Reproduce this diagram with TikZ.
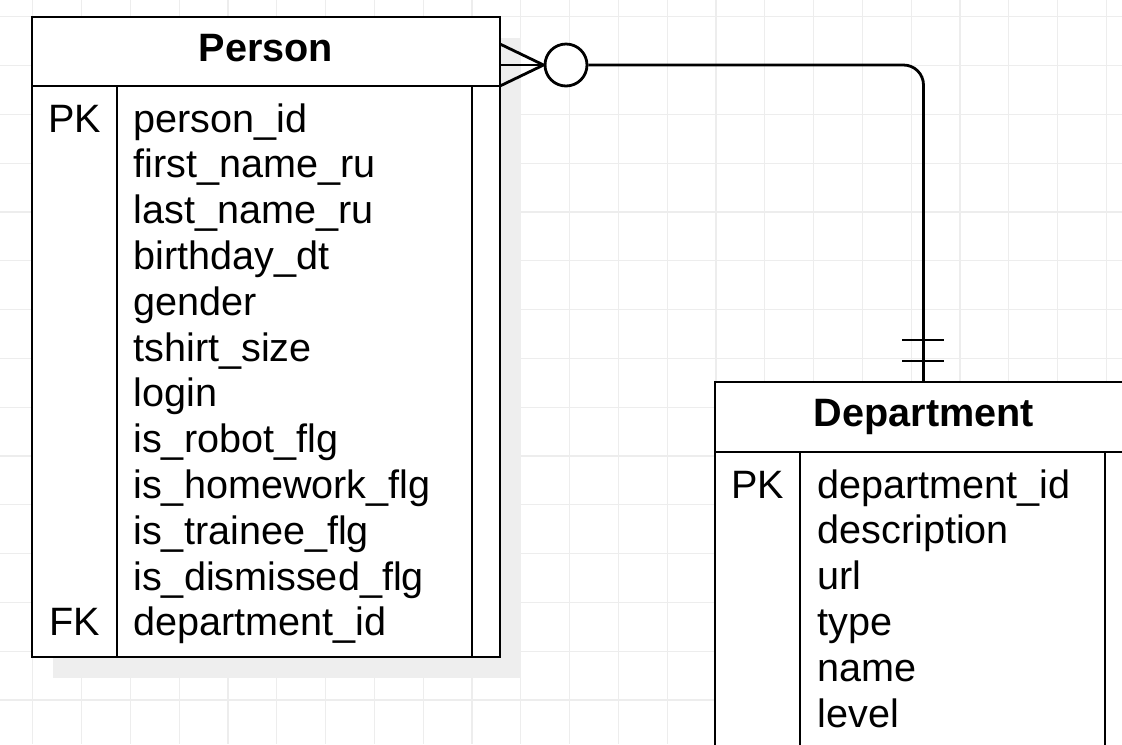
\documentclass[tikz,border=0pt]{standalone}
\usepackage{fontspec}
\setmainfont{Liberation Sans}
\usetikzlibrary{positioning}
\definecolor{gridgray}{HTML}{EDEDED}
\definecolor{shadowgray}{HTML}{EEEEEE}
\begin{document}
\begin{tikzpicture}[x=0.75pt,y=-0.75pt,line width=2.1pt,
    field/.style={anchor=base west,inner sep=0pt,font=\fontsize{29.7}{36}\selectfont},
    keylbl/.style={anchor=base,inner sep=0pt,font=\fontsize{29.7}{36}\selectfont},
    tabtitle/.style={anchor=base,inner sep=0pt,font=\fontsize{29.7}{36}\selectfont\bfseries},
    gridline/.style={draw=gridgray,line width=0.9pt}]
    \useasboundingbox (0,0) rectangle (1122,744);
    \clip (0,0) rectangle (1122,744);
    \fill[white] (0,0) rectangle (1122,744);
    \foreach \k in {0,...,22} \draw[gridline] (32.8+48.8*\k,0) -- (32.8+48.8*\k,744);
    \foreach \k in {0,...,14} \draw[gridline] (0,16.7+48.8*\k) -- (1122,16.7+48.8*\k);
    \fill[shadowgray] (53,38) rectangle (521,678);
    \fill[shadowgray] (736,403) rectangle (1154,780);
    \draw[fill=white] (32,17) rectangle (500,657);
    \draw (32,86) -- (500,86);
    \draw (117,86) -- (117,657);
    \draw (472,86) -- (472,657);
    \node[tabtitle] (persontitle) at (266,61.7) {Person};
    \node[keylbl] (personpk) at (74.5,132) {PK};
    \node[keylbl] (personfk) at (74.5,635.8) {FK};
    \foreach \f [count=\i from 0] in {person\_id,first\_name\_ru,last\_name\_ru,birthday\_dt,gender,tshirt\_size,login,is\_robot\_flg,is\_homework\_flg,is\_trainee\_flg,is\_dismissed\_flg,department\_id}
      \node[field] (pf\i) at (132,132+45.8*\i) {\f};
    \draw[fill=white] (715,382) rectangle (1133,780);
    \draw (715,452) -- (1133,452);
    \draw (800,452) -- (800,780);
    \draw (1105,452) -- (1105,780);
    \node[tabtitle] (depttitle) at (924,426.7) {Department};
    \node[keylbl] (deptpk) at (757.5,498) {PK};
    \foreach \f [count=\i from 0] in {department\_id,description,url,type,name,level}
      \node[field] (df\i) at (816,498+45.8*\i) {\f};
    \coordinate (pfoot) at (500,65);
    \coordinate (pfoottop) at (500,44);
    \coordinate (pfootbot) at (500,86);
    \coordinate (depttop) at (923.5,382);
    \node[draw,circle,fill=white,minimum size=31.5pt,inner sep=0pt] (popt) at (566,65) {};
    \draw (pfoottop) -- (popt.west) -- (pfootbot);
    \draw (pfoot) -- (popt.west);
    \draw[rounded corners=15pt] (popt.east) -| (depttop);
    \draw (902,340) -- (944,340);
    \draw (902,361) -- (944,361);
\end{tikzpicture}
\end{document}
